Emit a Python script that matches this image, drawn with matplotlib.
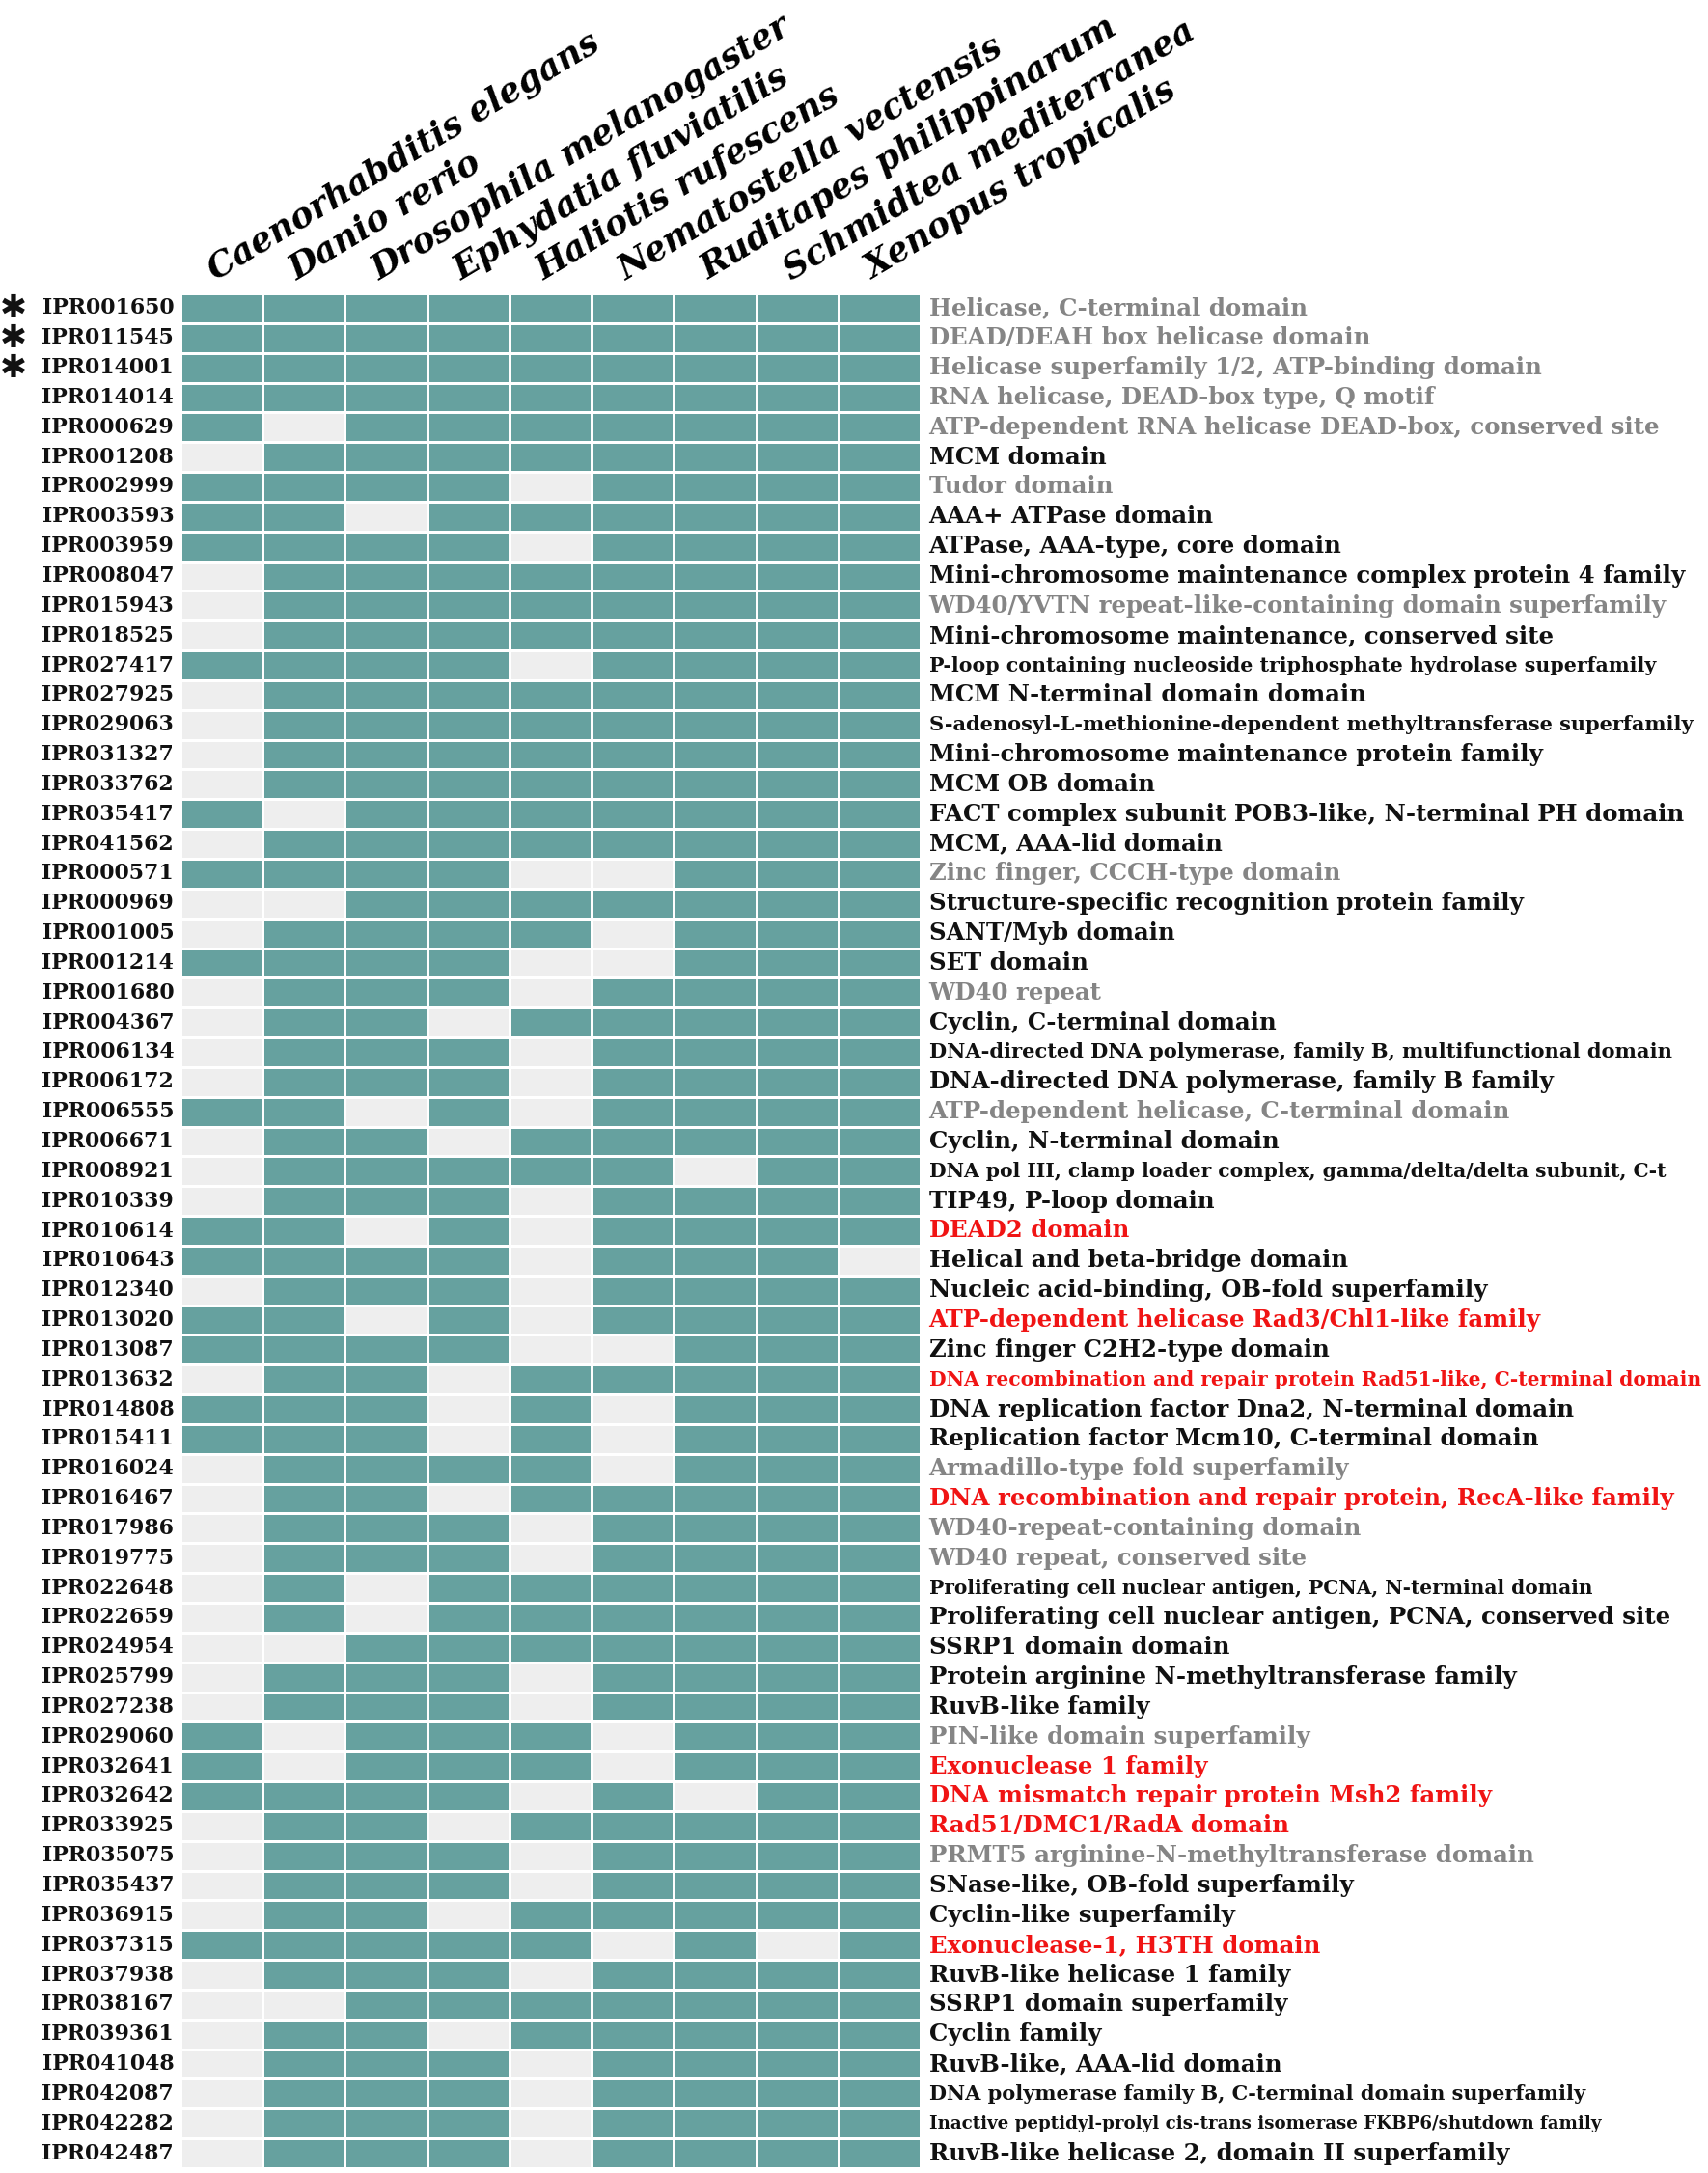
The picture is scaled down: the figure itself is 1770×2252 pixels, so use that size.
import numpy as np
import matplotlib.pyplot as plt
from matplotlib.colors import ListedColormap

# species (columns)
species = ["Caenorhabditis elegans", "Danio rerio", "Drosophila melanogaster",
           "Ephydatia fluviatilis", "Haliotis rufescens", "Nematostella vectensis",
           "Ruditapes philippinarum", "Schmidtea mediterranea", "Xenopus tropicalis"]

# InterPro ids (rows)
ipr_ids = ["IPR001650", "IPR011545", "IPR014001", "IPR014014", "IPR000629", "IPR001208",
           "IPR002999", "IPR003593", "IPR003959", "IPR008047", "IPR015943", "IPR018525",
           "IPR027417", "IPR027925", "IPR029063", "IPR031327", "IPR033762", "IPR035417",
           "IPR041562", "IPR000571", "IPR000969", "IPR001005", "IPR001214", "IPR001680",
           "IPR004367", "IPR006134", "IPR006172", "IPR006555", "IPR006671", "IPR008921",
           "IPR010339", "IPR010614", "IPR010643", "IPR012340", "IPR013020", "IPR013087",
           "IPR013632", "IPR014808", "IPR015411", "IPR016024", "IPR016467", "IPR017986",
           "IPR019775", "IPR022648", "IPR022659", "IPR024954", "IPR025799", "IPR027238",
           "IPR029060", "IPR032641", "IPR032642", "IPR033925", "IPR035075", "IPR035437",
           "IPR036915", "IPR037315", "IPR037938", "IPR038167", "IPR039361", "IPR041048",
           "IPR042087", "IPR042282", "IPR042487"]

# domain descriptions
descriptions = [
    "Helicase, C-terminal domain",
    "DEAD/DEAH box helicase domain",
    "Helicase superfamily 1/2, ATP-binding domain",
    "RNA helicase, DEAD-box type, Q motif",
    "ATP-dependent RNA helicase DEAD-box, conserved site",
    "MCM domain",
    "Tudor domain",
    "AAA+ ATPase domain",
    "ATPase, AAA-type, core domain",
    "Mini-chromosome maintenance complex protein 4 family",
    "WD40/YVTN repeat-like-containing domain superfamily",
    "Mini-chromosome maintenance, conserved site",
    "P-loop containing nucleoside triphosphate hydrolase superfamily",
    "MCM N-terminal domain domain",
    "S-adenosyl-L-methionine-dependent methyltransferase superfamily",
    "Mini-chromosome maintenance protein family",
    "MCM OB domain",
    "FACT complex subunit POB3-like, N-terminal PH domain",
    "MCM, AAA-lid domain",
    "Zinc finger, CCCH-type domain",
    "Structure-specific recognition protein family",
    "SANT/Myb domain",
    "SET domain",
    "WD40 repeat",
    "Cyclin, C-terminal domain",
    "DNA-directed DNA polymerase, family B, multifunctional domain",
    "DNA-directed DNA polymerase, family B family",
    "ATP-dependent helicase, C-terminal domain",
    "Cyclin, N-terminal domain",
    "DNA pol III, clamp loader complex, gamma/delta/delta subunit, C-t",
    "TIP49, P-loop domain",
    "DEAD2 domain",
    "Helical and beta-bridge domain",
    "Nucleic acid-binding, OB-fold superfamily",
    "ATP-dependent helicase Rad3/Chl1-like family",
    "Zinc finger C2H2-type domain",
    "DNA recombination and repair protein Rad51-like, C-terminal domain",
    "DNA replication factor Dna2, N-terminal domain",
    "Replication factor Mcm10, C-terminal domain",
    "Armadillo-type fold superfamily",
    "DNA recombination and repair protein, RecA-like family",
    "WD40-repeat-containing domain",
    "WD40 repeat, conserved site",
    "Proliferating cell nuclear antigen, PCNA, N-terminal domain",
    "Proliferating cell nuclear antigen, PCNA, conserved site",
    "SSRP1 domain domain",
    "Protein arginine N-methyltransferase family",
    "RuvB-like family",
    "PIN-like domain superfamily",
    "Exonuclease 1 family",
    "DNA mismatch repair protein Msh2 family",
    "Rad51/DMC1/RadA domain",
    "PRMT5 arginine-N-methyltransferase domain",
    "SNase-like, OB-fold superfamily",
    "Cyclin-like superfamily",
    "Exonuclease-1, H3TH domain",
    "RuvB-like helicase 1 family",
    "SSRP1 domain superfamily",
    "Cyclin family",
    "RuvB-like, AAA-lid domain",
    "DNA polymerase family B, C-terminal domain superfamily",
    "Inactive peptidyl-prolyl cis-trans isomerase FKBP6/shutdown family",
    "RuvB-like helicase 2, domain II superfamily",
]

# label group: g = grey, k = black, r = red
groups = list("gggggkgkkkgkkkkkkkkgkkkgkkkgkkkrkkrkrkkgrggkkkkkgrrrgkkrkkkkkkk")

# rows marked with an asterisk
starred = ["IPR001650", "IPR011545", "IPR014001"]

# presence (1) / absence (0), columns in the order of `species`
presence = [
    "111111111", "111111111", "111111111", "111111111", "101111111", "011111111",
    "111101111", "110111111", "111101111", "011111111", "011111111", "011111111",
    "111101111", "011111111", "011111111", "011111111", "011111111", "101111111",
    "011111111", "111100111", "001111111", "011110111", "111100111", "011101111",
    "011011111", "011101111", "011101111", "110101111", "011011111", "011111011",
    "011101111", "110101111", "111101110", "011101111", "110101111", "111100111",
    "011011111", "111010111", "111010111", "011110111", "011011111", "011101111",
    "011101111", "010111111", "010111111", "001111111", "011101111", "011101111",
    "101110111", "101110111", "111101011", "011011111", "011101111", "011101111",
    "011011111", "111110101", "011101111", "001111111", "011011111", "011101111",
    "011101111", "011101111", "011101111",
]

# smaller font for a few long descriptions (style, relative to base)
small_labels = {
    "P-loop containing nucleoside triphosphate hydrolase superfamily": 0.84,
    "S-adenosyl-L-methionine-dependent methyltransferase superfamily": 0.855,
    "DNA-directed DNA polymerase, family B, multifunctional domain": 0.86,
    "DNA pol III, clamp loader complex, gamma/delta/delta subunit, C-t": 0.83,
    "DNA recombination and repair protein Rad51-like, C-terminal domain": 0.83,
    "Proliferating cell nuclear antigen, PCNA, N-terminal domain": 0.825,
    "DNA polymerase family B, C-terminal domain superfamily": 0.855,
    "Inactive peptidyl-prolyl cis-trans isomerase FKBP6/shutdown family": 0.745,
}

mat = np.array([[int(c) for c in row] for row in presence])
n_rows, n_cols = mat.shape

teal = "#66a19f"
absent = "#eeeeee"
label_colors = {"g": "#858585", "k": "#111111", "r": "#f01414"}

W, H = 1770, 2252
fig = plt.figure(figsize=(W / 100, H / 100), dpi=100)
ax = fig.add_axes([187 / W, 1 - 2247 / H, 767 / W, 1943 / H])

ax.pcolormesh(mat, cmap=ListedColormap([absent, teal]), vmin=0, vmax=1,
              edgecolors="white", linewidth=2.0)
ax.set_xlim(0, n_cols)
ax.set_ylim(n_rows, 0)
ax.axis("off")

id_size = 15.8
desc_size = 17.6
for i in range(n_rows):
    ax.text(-0.08, i + 0.5, ipr_ids[i], ha="right", va="center",
            fontsize=id_size, fontweight="bold", family="DejaVu Serif", color="#111111")
    if ipr_ids[i] in starred:
        ax.text(-2.03, i + 0.5, "\u2731", ha="center", va="center",
                fontsize=24, color="#111111", family="DejaVu Sans")
    desc = descriptions[i]
    ax.text(n_cols + 0.1, i + 0.5, desc, ha="left", va="center",
            fontsize=desc_size * small_labels.get(desc, 1.0), fontweight="bold",
            family="DejaVu Serif", color=label_colors[groups[i]])

# species headers
for j, name in enumerate(species):
    ax.text((j + 0.42) / n_cols, 1.007, name, transform=ax.transAxes,
            rotation=31, rotation_mode="anchor", ha="left", va="baseline",
            fontsize=25.5, fontweight="bold", fontstyle="italic",
            family="DejaVu Serif", color="black")

fig.savefig("out.png", dpi=100, facecolor="white")
